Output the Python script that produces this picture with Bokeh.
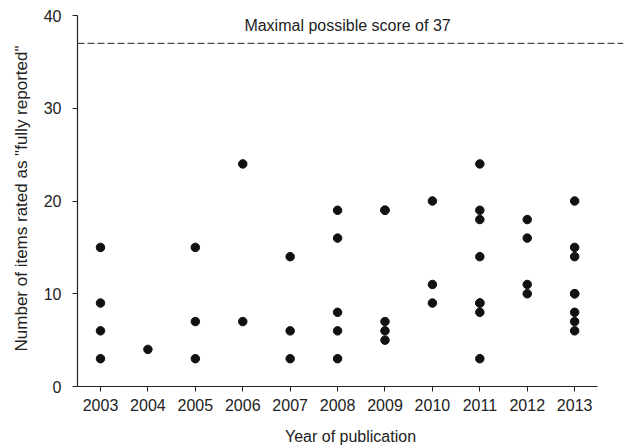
from bokeh.plotting import figure
from bokeh.models import FixedTicker, Span, Range1d
from bokeh.core.properties import value
from bokeh.embed import file_html
from bokeh.resources import INLINE

# data: one entry per study (year of publication, items fully reported)
years = [2003, 2003, 2003, 2003,
         2004,
         2005, 2005, 2005,
         2006, 2006,
         2007, 2007, 2007,
         2008, 2008, 2008, 2008, 2008,
         2009, 2009, 2009, 2009, 2009,
         2010, 2010, 2010,
         2011, 2011, 2011, 2011, 2011, 2011, 2011, 2011,
         2012, 2012, 2012, 2012,
         2013, 2013, 2013, 2013, 2013, 2013, 2013, 2013]
scores = [15, 9, 6, 3,
          4,
          15, 7, 3,
          24, 7,
          14, 6, 3,
          19, 16, 8, 6, 3,
          19, 19, 7, 6, 5,
          20, 11, 9,
          24, 19, 18, 14, 9, 9, 8, 3,
          18, 16, 11, 10,
          20, 15, 14, 10, 10, 8, 7, 6]
x_ticks = list(range(2003, 2014))
y_ticks = [0, 10, 20, 30, 40]
max_score = 37
max_label = "Maximal possible score of 37"

FONT = "Liberation Sans"
INK = "#222222"

p = figure(width=627, height=447, output_backend="svg", toolbar_location=None,
           x_range=Range1d(2002.515, 2014.03), y_range=Range1d(0, 40.54),
           min_border_left=77, min_border_right=4, min_border_top=10, min_border_bottom=59)
p.outline_line_color = None
p.xgrid.grid_line_color = None
p.ygrid.grid_line_color = None
p.background_fill_color = "white"
p.border_fill_color = "white"

for ax in (p.xaxis[0], p.yaxis[0]):
    ax.axis_line_color = INK
    ax.axis_line_width = 1.2
    ax.major_tick_line_color = INK
    ax.major_tick_in = 0
    ax.major_tick_out = 5
    ax.minor_tick_line_color = None
    ax.major_label_text_font = FONT
    ax.major_label_text_font_size = "16px"
    ax.major_label_text_color = INK
    ax.axis_label_text_font = FONT
    ax.axis_label_text_font_size = "16px"
    ax.axis_label_text_font_style = "normal"
    ax.axis_label_text_color = INK

p.xaxis.ticker = FixedTicker(ticks=x_ticks)
p.xaxis.bounds = (2002.515, 2013.49)
p.xaxis.major_label_standoff = 7
p.xaxis.axis_label = "Year of publication"
p.xaxis.axis_label_standoff = 14

p.yaxis.ticker = FixedTicker(ticks=y_ticks)
p.yaxis.bounds = (0, 40)
p.yaxis.major_label_standoff = 11
p.yaxis.axis_label = 'Number of items rated as "fully reported"'
p.yaxis.axis_label_text_font_size = "17px"
p.yaxis.axis_label_standoff = 10

p.add_layout(Span(location=max_score, dimension="width", line_color="#222222",
                  line_width=1, line_dash="7 3"))

p.text(x=[2008.21], y=[38.93], text=[max_label], text_font=value(FONT),
       text_font_size="16px", text_color=INK, text_align="center",
       text_baseline="middle")

p.scatter(x=years, y=scores, size=8.5, fill_color="#111111", line_color="#111111")

open("out.html", "w").write(file_html(p, INLINE))
